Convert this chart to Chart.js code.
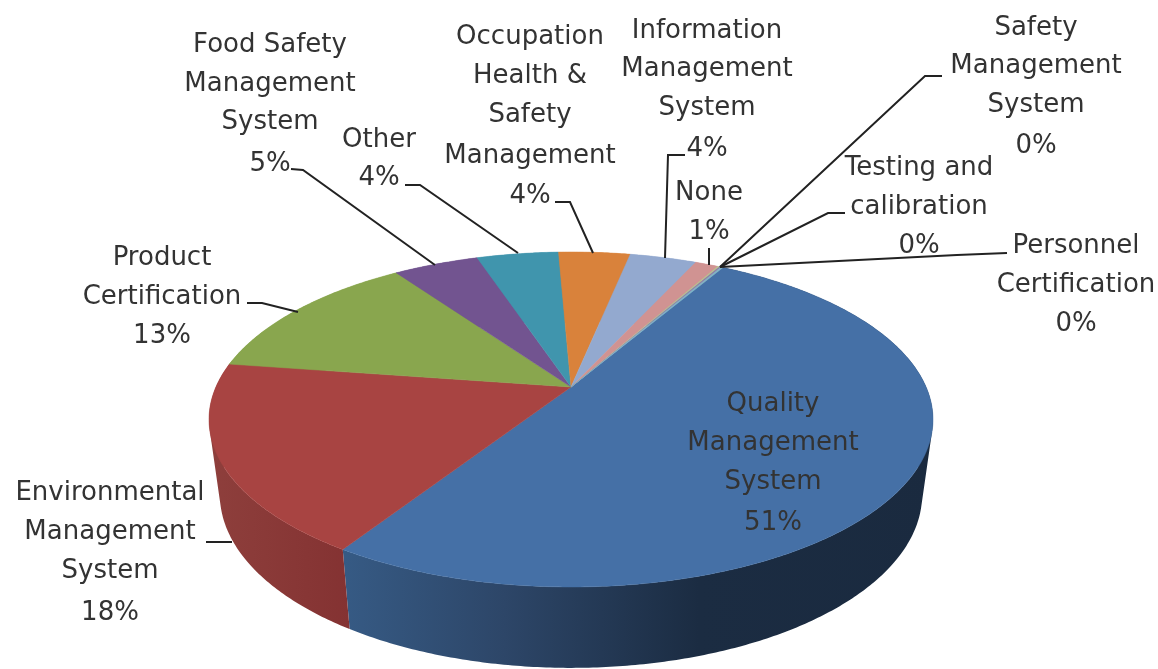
<!DOCTYPE html>
<html lang="en">
<head>
  <meta charset="UTF-8">
  <title>Certification types</title>
  <script src="https://cdn.jsdelivr.net/npm/chart.js"></script>
  <style>
    html, body { margin: 0; padding: 0; background: #fff; overflow: hidden; }
    canvas { display: block; filter: blur(0.7px); }
  </style>
</head>
<body>
  <canvas id="pie" width="1158" height="669"></canvas>

  <script>
    // values, labels only show the rounded percent
    const categories = [
      'Quality Management System', 'Environmental Management System', 'Product Certification',
      'Food Safety Management System', 'Other', 'Occupation Health & Safety Management',
      'Information Management System', 'None', 'Testing and calibration',
      'Safety Management System', 'Personnel Certification'
    ];
    const shares = [50.7, 18.3, 13.0, 4.6, 4.4, 3.85, 3.6, 1.25, 0.1, 0.1, 0.1];
    const percentLabels = ['51%', '18%', '13%', '5%', '4%', '4%', '4%', '1%', '0%', '0%', '0%'];
    const sliceColors = ['#4570a6', '#a84442', '#89a64e', '#725490', '#4095ad', '#d9823b', '#93a9cf', '#d09392', '#b5c98f', '#8e7ba8', '#7fb5c6'];

    // label text placement: wrapped lines, centre x, centre y of every line
    const labelLines = [
      ['Quality', 'Management', 'System'], ['Environmental', 'Management', 'System'], ['Product', 'Certification'],
      ['Food Safety', 'Management', 'System'], ['Other'], ['Occupation', 'Health &', 'Safety', 'Management'],
      ['Information', 'Management', 'System'], ['None'], ['Testing and', 'calibration'],
      ['Safety', 'Management', 'System'], ['Personnel', 'Certification']
    ];
    const labelX = [773, 110, 162, 270, 379, 530, 707, 709, 919, 1036, 1076];
    const labelY = [
      [404, 443, 482, 523], [493, 532, 571, 613], [258, 297, 336],
      [45, 84, 122, 164], [140, 178], [37, 76, 115, 156, 196],
      [31, 69, 108, 149], [193, 232], [168, 207, 246],
      [28, 66, 105, 146], [246, 285, 324]
    ];
    const leaders = [
      null,
      [[206, 542], [232, 542]],
      [[247, 303], [262, 303], [298, 312]],
      [[291, 169], [303, 170], [435, 265]],
      [[405, 185], [420, 185], [518, 253]],
      [[555, 202], [570, 202], [593, 253]],
      [[685, 155], [668, 155], [665, 258]],
      [[709, 248], [709, 265]],
      [[845, 213], [828, 213], [720, 267]],
      [[942, 76], [925, 76], [720, 267]],
      [[1007, 253], [957, 255], [720, 267]]
    ];

    // projection of the unit disc onto the page (tilted pie with perspective)
    const view = { cx: 571, apexY: 387, r: 355.1, a: 86.1, c: -0.194 };
    function project(u, v) {
      const d = 1 + view.c * v;
      return [view.cx + view.r * u / d, (view.a * v + view.apexY) / d];
    }
    function projectBottom(u, v) {
      const p = project(u, v);
      return [view.cx + (p[0] - view.cx) * 0.97, p[1] + 75 + (p[1] - 418) * 0.035];
    }
    function arcPoints(start, end, fn) {
      const steps = Math.max(2, Math.ceil((end - start) / 0.01));
      const pts = [];
      for (let i = 0; i <= steps; i++) {
        const t = start + (end - start) * i / steps;
        pts.push(fn(Math.cos(t), Math.sin(t)));
      }
      return pts;
    }
    function wallFill(ctx, i) {
      if (i === 0) {
        const g = ctx.createLinearGradient(345, 0, 935, 0);
        g.addColorStop(0, '#365a84');
        g.addColorStop(0.27, '#2d4668');
        g.addColorStop(0.6, '#1b2c42');
        g.addColorStop(1, '#1a2a3f');
        return g;
      }
      if (i === 1) {
        const g = ctx.createLinearGradient(209, 0, 350, 0);
        g.addColorStop(0, '#8e3f3c');
        g.addColorStop(1, '#843232');
        return g;
      }
      return sliceColors[i];
    }
    function signedArea(q) {
      let s = 0;
      q.forEach((p, k) => {
        const n = q[(k + 1) % q.length];
        s += p[0] * n[1] - n[0] * p[1];
      });
      return s;
    }

    const pie3d = {
      id: 'pie3d',
      beforeDatasetsDraw(chart) {
        const ctx = chart.ctx;
        const arcs = chart.getDatasetMeta(0).data;
        ctx.save();
        // side wall first, the top surface covers whatever lies behind it
        arcs.forEach((arc, i) => {
          const top = arcPoints(arc.startAngle, arc.endAngle, project);
          const bottom = arcPoints(arc.startAngle, arc.endAngle, projectBottom);
          ctx.beginPath();
          // one small quad per step, all wound the same way or they cancel near the sides
          for (let k = 0; k < top.length - 1; k++) {
            const q = [top[k], top[k + 1], bottom[k + 1], bottom[k]];
            if (signedArea(q) < 0) q.reverse();
            q.forEach((p, n) => n ? ctx.lineTo(p[0], p[1]) : ctx.moveTo(p[0], p[1]));
            ctx.closePath();
          }
          ctx.fillStyle = wallFill(ctx, i);
          ctx.fill();
        });
        arcs.forEach((arc, i) => {
          const apex = project(0, 0);
          ctx.beginPath();
          ctx.moveTo(apex[0], apex[1]);
          arcPoints(arc.startAngle, arc.endAngle, project).forEach(p => ctx.lineTo(p[0], p[1]));
          ctx.closePath();
          ctx.fillStyle = sliceColors[i];
          ctx.strokeStyle = sliceColors[i];
          ctx.lineWidth = 0.5;
          ctx.fill();
          ctx.stroke();
        });
        ctx.restore();
        return false;
      },
      // afterDatasetsDraw is skipped once the default drawing is cancelled
      afterDraw(chart) {
        const ctx = chart.ctx;
        ctx.save();
        ctx.strokeStyle = '#222';
        ctx.lineWidth = 2;
        leaders.forEach(line => {
          if (!line) return;
          ctx.beginPath();
          line.forEach((p, k) => k ? ctx.lineTo(p[0], p[1]) : ctx.moveTo(p[0], p[1]));
          ctx.stroke();
        });
        ctx.font = '26px "DejaVu Sans"';
        ctx.fillStyle = '#333';
        ctx.textAlign = 'center';
        ctx.textBaseline = 'middle';
        labelLines.forEach((lines, i) => {
          lines.concat(percentLabels[i]).forEach((txt, k) => {
            ctx.fillText(txt, labelX[i], labelY[i][k]);
          });
        });
        ctx.restore();
      }
    };

    new Chart(document.getElementById('pie'), {
      type: 'pie',
      data: {
        labels: categories,
        datasets: [{ data: shares, backgroundColor: sliceColors }]
      },
      options: {
        responsive: false,
        animation: false,
        rotation: 30,
        plugins: { legend: { display: false }, tooltip: { enabled: false } }
      },
      plugins: [pie3d]
    });
  </script>
</body>
</html>
